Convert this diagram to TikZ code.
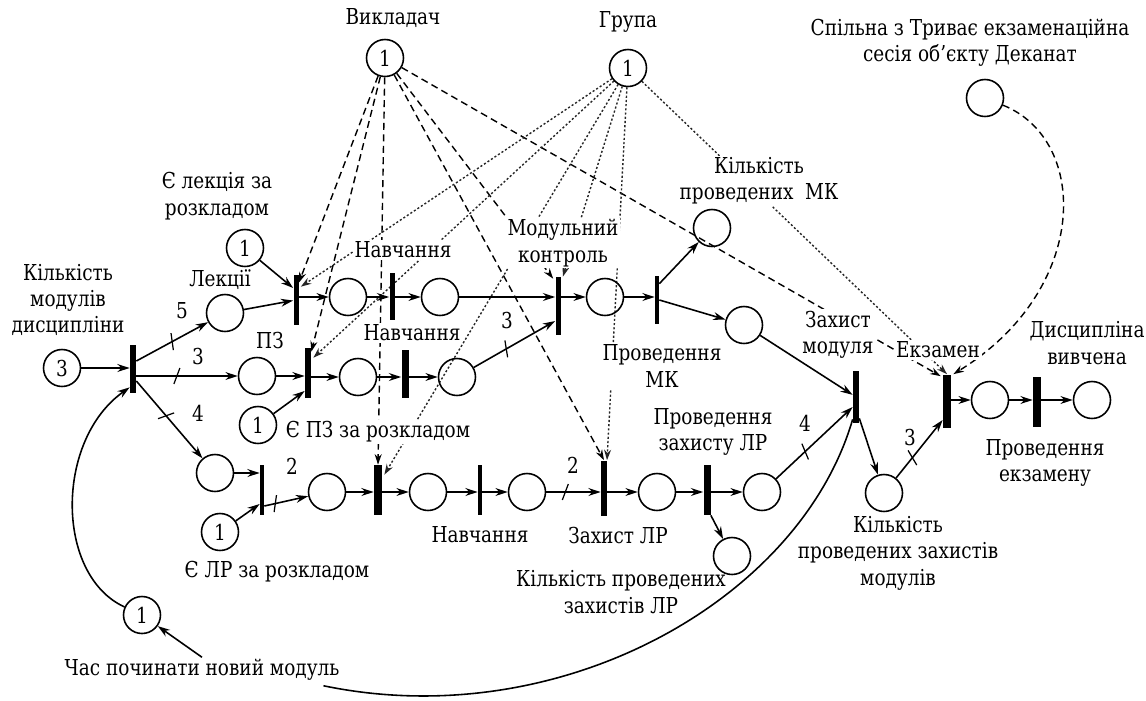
\documentclass[tikz,border=0pt]{standalone}
\usepackage{fontspec}
\setmainfont{DejaVu Serif}[FakeStretch=0.84]
\newfontfamily\tnr{DejaVu Serif}[FakeStretch=0.84]
\usetikzlibrary{arrows.meta,calc,decorations.markings}
\pgfdeclarelayer{bg}
\pgfdeclarelayer{lb}
\pgfsetlayers{bg,lb,main}
\begin{document}
\begin{tikzpicture}[x=0.02cm,y=-0.02cm,
  font=\tnr\fontsize{12.5}{15}\selectfont,
  pl/.style={circle,draw,line width=0.9pt,minimum size=0.74cm,inner sep=0pt},
  tr/.style={rectangle,fill=black,inner sep=0pt,minimum width=#1,minimum height=1cm},
  tr/.default=0.09cm,
  lbl/.style={align=center,fill=white,inner sep=1pt},
  wl/.style={inner sep=0pt},
  fl/.style={-{Stealth[length=7pt,width=4.5pt]},line width=0.9pt},
  vk/.style={-{Stealth[length=6pt,width=4pt]},dash pattern=on 4pt off 2.5pt,line width=0.8pt},
  gr/.style={-{Stealth[length=6pt,width=4pt]},dash pattern=on 1.2pt off 1.2pt,line width=0.8pt,black!85},
  tk/.style={postaction={decorate,decoration={markings,mark=at position #1 with {\draw[-,solid,line width=0.7pt] (-3,8) -- (3,-8);}}}}
]
\useasboundingbox (0,0) rectangle (1146,700);

% places
\node[pl] (pV) at (385,58) {1};
\node[pl] (pG) at (628,68) {1};
\node[pl] (pD) at (985,98) {};
\node[pl] (pK) at (62,368) {3};
\node[pl] (pL) at (225,313) {};
\node[pl] (pPZ) at (257,376) {};
\node[pl] (pLR) at (215,473) {};
\node[pl] (pEL) at (245,248) {1};
\node[pl] (pEPZ) at (258,425) {1};
\node[pl] (pELR) at (220,532) {1};
\node[pl] (pChas) at (142,615) {1};
\node[pl] (p1) at (348,297) {};
\node[pl] (p2) at (440,297) {};
\node[pl] (p3) at (358,377) {};
\node[pl] (p4) at (457,377) {};
\node[pl] (p5) at (605,297) {};
\node[pl] (pMK) at (712,228) {};
\node[pl] (p6) at (744,325) {};
\node[pl] (l1) at (327,492) {};
\node[pl] (l2) at (428,492) {};
\node[pl] (l3) at (527,492) {};
\node[pl] (l4) at (657,492) {};
\node[pl] (l5) at (762,492) {};
\node[pl] (pKLR) at (732,556) {};
\node[pl] (pKZM) at (884,493) {};
\node[pl] (p7) at (990,400) {};
\node[pl] (pDV) at (1092,400) {};

% transitions
\node[tr=0.12cm,minimum height=0.96cm] (t0) at (133,369) {};
\node[tr=0.1cm] (tL1) at (296,300) {};
\node[tr=0.1cm,minimum height=0.94cm] (tN1) at (392,296) {};
\node[tr=0.1cm,minimum height=1.16cm] (tMK) at (558,306) {};
\node[tr=0.08cm,minimum height=0.96cm] (tPMK) at (657,300) {};
\node[tr=0.12cm] (tPZ1) at (308,373) {};
\node[tr=0.14cm,minimum height=0.96cm] (tN2) at (405,374) {};
\node[tr=0.08cm] (tLR1) at (262,490) {};
\node[tr=0.16cm] (tL2) at (378,490) {};
\node[tr=0.08cm] (tN3) at (480,490) {};
\node[tr=0.12cm,minimum height=1.1cm] (tZLR) at (604,488) {};
\node[tr=0.14cm] (tPZLR) at (707,490) {};
\node[tr=0.12cm,minimum height=1.04cm] (tZM) at (856,397) {};
\node[tr=0.16cm,minimum height=1.06cm] (tE) at (947,401) {};
\node[tr=0.16cm] (tPE) at (1037,402) {};

% labels
\begin{pgfonlayer}{lb}
\node[lbl] (lV) at (393,18) {Викладач};
\node[lbl] (lG) at (628,22) {Група};
\node[lbl] (lD) at (970,43) {Спільна з Триває екзаменаційна\\сесія об’єкту Деканат};
\node[lbl] (lEL) at (217,196) {Є лекція за\\розкладом};
\node[lbl] (lL) at (220,280) {Лекції};
\node[lbl] (lK) at (68,300) {Кількість\\модулів\\дисципліни};
\node[lbl] (lPZ) at (270,340) {ПЗ};
\node[lbl] (lN1) at (403,250) {Навчання};
\node[lbl] (lN2) at (412,333) {Навчання};
\node[lbl] (lMK) at (563,243) {Модульний\\контроль};
\node[lbl] (lPMK) at (662,366) {Проведення\\МК};
\node[lbl] (lKMK) at (759,181) {Кількість\\проведених~~МК};
\node[lbl] (lZM) at (838,335) {Захист\\модуля};
\node[lbl] (lE) at (938,350) {Екзамен};
\node[lbl] (lDV) at (1087,343) {Дисципліна\\вивчена};
\node[lbl] (lPE) at (1045,463) {Проведення\\екзамену};
\node[lbl] (lKZM) at (898,553) {Кількість\\проведених захистів\\модулів};
\node[lbl] (lPZLR) at (713,432) {Проведення\\захисту ЛР};
\node[lbl] (lKLR) at (621,592) {Кількість проведених\\захистів ЛР};
\node[lbl] (lZLR) at (618,535) {Захист ЛР};
\node[lbl] (lN3) at (480,535) {Навчання};
\node[lbl] (lELR) at (277,572) {Є ЛР за розкладом};
\node[lbl] (lEPZ) at (378,432) {Є ПЗ за розкладом};
\node[lbl] (lChas) at (202,670) {Час починати новий модуль};
\end{pgfonlayer}

% weights
\node[wl] (w1) at (182,311) {5};
\node[wl] (w2) at (198,356) {3};
\node[wl] (w3) at (198,413) {4};
\node[wl] (w4) at (292,466) {2};
\node[wl] (w5) at (507,320) {3};
\node[wl] (w6) at (573,465) {2};
\node[wl] (w7) at (805,423) {4};
\node[wl] (w8) at (910,437) {3};

% dashed / dotted control arcs
\begin{pgfonlayer}{bg}
\draw[vk] (pV) -- ($(tL1.north east)+(0,8)$);
\draw[vk] (pV) -- ($(tPZ1.north east)+(0,4)$);
\draw[vk] (pV) -- (tL2.north);
\draw[vk] (pV) -- ($(tMK.north west)+(-2,2)$);
\draw[vk] (pV) -- (tZLR.north);
\draw[vk] (pV) -- ($(tE.north west)+(-2,2)$);
\draw[gr] (pG) -- ($(tL1.north east)+(2,12)$);
\draw[gr] (pG) -- ($(tPZ1.north east)+(2,10)$);
\draw[gr] (pG) -- ($(tL2.north east)+(2,10)$);
\draw[gr] (pG) -- ($(tMK.north east)+(2,0)$);
\draw[gr] (pG) -- ($(tZLR.north)+(3,0)$);
\draw[gr] (pG) -- (tE.north);
\draw[vk] (pD) .. controls (1090,140) and (1090,290) .. ($(tE.north east)+(2,0)$);
\end{pgfonlayer}

% solid arcs
\draw[fl] (pK) -- (t0.west |- pK);
\draw[fl,tk=0.5] ($(t0.east)+(0,-8)$) -- (pL);
\draw[fl,tk=0.4] (t0.east |- pPZ) -- (pPZ);
\draw[fl,tk=0.45] ($(t0.east)+(0,12)$) -- (pLR);
\draw[fl] (pChas) .. controls (55,575) and (55,440) .. ($(t0.south west)+(0,-6)$);
\draw[fl] (pL) -- (tL1);
\draw[fl] (pEL) -- ($(tL1.west)+(0,-12)$);
\draw[fl] (tL1.east |- p1) -- (p1);
\draw[fl] (p1) -- (tN1.west |- p1);
\draw[fl] (tN1.east |- p2) -- (p2);
\draw[fl] (p2) -- (tMK.west |- p2);
\draw[fl] (pPZ) -- (tPZ1.west |- pPZ);
\draw[fl] (pEPZ) -- ($(tPZ1.west)+(0,18)$);
\draw[fl] (tPZ1.east |- p3) -- (p3);
\draw[fl] (p3) -- (tN2.west |- p3);
\draw[fl] (tN2.east |- p4) -- (p4);
\draw[fl,tk=0.4] (p4) -- ($(tMK.west)+(0,15)$);
\draw[fl] (tMK.east |- p5) -- (p5);
\draw[fl] (p5) -- (tPMK.west |- p5);
\draw[fl] ($(tPMK.north east)+(0,8)$) -- (pMK);
\draw[fl] (tPMK.east) -- (p6);
\draw[fl] (p6) -- (tZM);
\draw[fl] (pLR) -- (tLR1.west |- pLR);
\draw[fl] (pELR) -- ($(tLR1.west)+(0,14)$);
\draw[fl,tk=0.25] ($(tLR1.east)+(0,16)$) -- (l1);
\draw[fl] (l1) -- (tL2.west |- l1);
\draw[fl] (tL2.east |- l2) -- (l2);
\draw[fl] (l2) -- (tN3.west |- l2);
\draw[fl] (tN3.east |- l3) -- (l3);
\draw[fl,tk=0.35] (l3) -- (tZLR.west |- l3);
\draw[fl] (tZLR.east |- l4) -- (l4);
\draw[fl] (l4) -- (tPZLR.west |- l4);
\draw[fl] (tPZLR.east |- l5) -- (l5);
\draw[fl] (tPZLR.south east) -- (pKLR);
\draw[fl,tk=0.38] (l5) -- ($(tZM.west)+(0,10)$);
\draw[fl] ($(tZM.south east)+(0,-5)$) -- (pKZM);
\draw[fl,tk=0.35] (pKZM) -- ($(tE.west)+(0,19)$);
\draw[fl] (tE.east |- p7) -- (p7);
\draw[fl] (p7) -- (tPE.west |- p7);
\draw[fl] (tPE.east |- pDV) -- (pDV);
\draw[line width=0.9pt] ($(tZM.south west)+(0,-4)$) .. controls (800,600) and (560,735) .. ($(lChas.south east)+(-18,3)$);
\draw[fl] (lChas.north) -- (pChas);
\end{tikzpicture}
\end{document}
